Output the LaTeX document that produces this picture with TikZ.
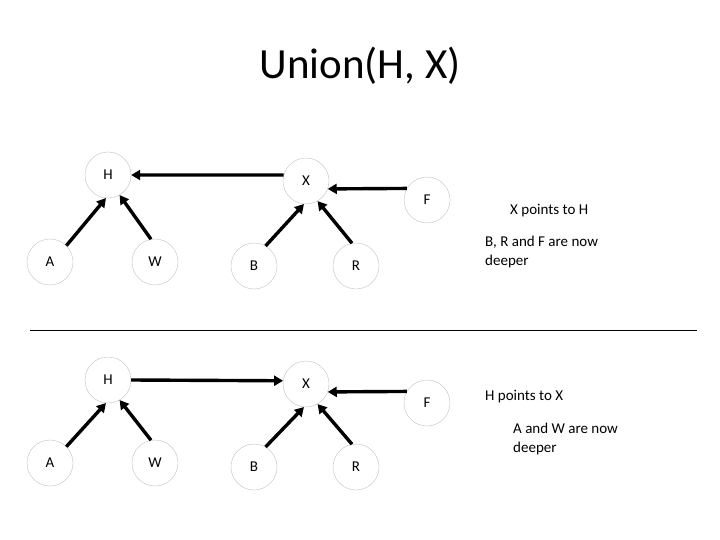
\documentclass[tikz,border=0pt]{standalone}
\usepackage{fontspec}
\setmainfont{Carlito}
\usetikzlibrary{arrows.meta}
\begin{document}
\begin{tikzpicture}[x=1pt,y=-1pt,
  vert/.style={circle, draw=black!30, line width=0.3pt, minimum size=46pt, inner sep=0pt, font=\fontsize{15}{17}\selectfont},
  link/.style={-{Triangle[length=9pt,width=10pt]}, line width=3.4pt},
  note/.style={anchor=north west, align=flush left, font=\fontsize{15}{19}\selectfont, text width=150pt, inner sep=0pt}
]
\useasboundingbox (0,0) rectangle (720,540);
\node[font=\fontsize{43}{48}\selectfont] (title) at (360,66) {Union(H, X)};

% before
\node[vert] (h1) at (108,175) {H};
\node[vert] (x1) at (306,181) {X};
\node[vert] (f1) at (427,200) {F};
\node[vert] (a1) at (50,262) {A};
\node[vert] (w1) at (155,262) {W};
\node[vert] (b1) at (254,266) {B};
\node[vert] (r1) at (356,266) {R};
\draw[link] (a1.45) -- (h1.-95);
\draw[link] (w1.100) -- (h1.-60);
\draw[link] (x1.165) -- (h1.east);
\draw[link] (f1.150) -- (x1.-20);
\draw[link] (b1.60) -- (x1.-95);
\draw[link] (r1.100) -- (x1.-60);
\node[note] (n1) at (510,204) {X points to H};
\node[note] (n2) at (485,236) {B, R and F are now deeper};

\draw[line width=0.6pt] (30,330) coordinate (sl) -- (697,330) coordinate (sr);

% after
\node[vert] (h2) at (108,380) {H};
\node[vert] (x2) at (306,384) {X};
\node[vert] (f2) at (427,403) {F};
\node[vert] (a2) at (50,463) {A};
\node[vert] (w2) at (155,463) {W};
\node[vert] (b2) at (254,467) {B};
\node[vert] (r2) at (356,467) {R};
\draw[link] (a2.45) -- (h2.-95);
\draw[link] (w2.100) -- (h2.-60);
\draw[link] (h2.east) -- (x2.172);
\draw[link] (f2.150) -- (x2.-20);
\draw[link] (b2.60) -- (x2.-95);
\draw[link] (r2.100) -- (x2.-60);
\node[note] (n3) at (485,390) {H points to X};
\node[note, text width=130pt] (n4) at (513,423) {A and W are now deeper};
\end{tikzpicture}
\end{document}
